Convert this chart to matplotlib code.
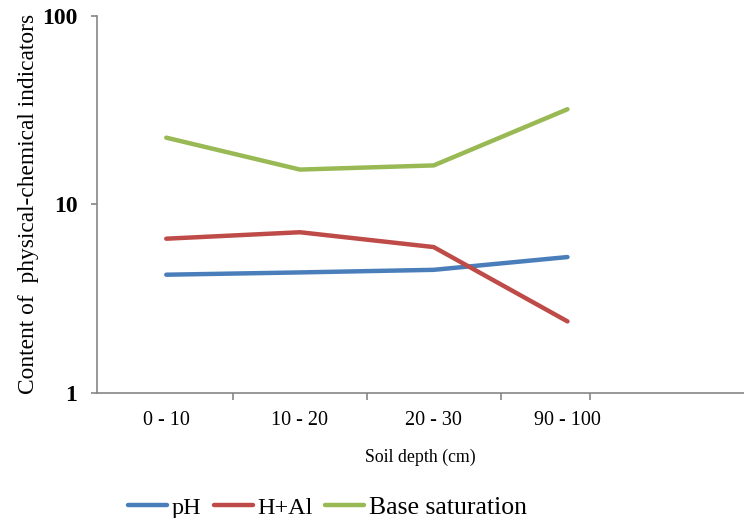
import matplotlib
matplotlib.use("Agg")
from matplotlib import pyplot as plt
from matplotlib.ticker import FixedLocator, NullLocator

depths = ["0 - 10", "10 - 20", "20 - 30", "90 - 100"]
ph = [4.23, 4.35, 4.49, 5.25]
h_al = [6.57, 7.11, 5.93, 2.39]
base_saturation = [22.6, 15.3, 16.1, 32.0]

plt.rcParams["font.family"] = ["Liberation Serif", "DejaVu Serif"]

fig = plt.figure(figsize=(7.44, 5.18), dpi=100)
ax = fig.add_axes([0.130, 0.242, 0.870, 0.727])

x = range(len(depths))
ax.plot(x, ph, color="#4A7EBB", linewidth=3.2, solid_capstyle="round", label="pH")
ax.plot(x, h_al, color="#BE4B48", linewidth=3.2, solid_capstyle="round", label="H+Al")
ax.plot(x, base_saturation, color="#98B954", linewidth=3.2, solid_capstyle="round", label="Base saturation")

ax.set_yscale("log")
ax.set_ylim(1, 100)
ax.yaxis.set_major_locator(FixedLocator([1, 10, 100]))
ax.yaxis.set_minor_locator(NullLocator())
ax.set_yticklabels(["1", "10", "100"], fontsize=17, fontweight="bold")

ax.set_xlim(-0.52, 4.32)
ax.set_xticks(list(x))
ax.set_xticklabels(depths, fontsize=14.5)
ax.set_xticks([0.5, 1.5, 2.5, 3.17], minor=True)
ax.tick_params(axis="x", which="major", length=0, pad=13)
ax.tick_params(axis="x", which="minor", length=5, color="#868686", width=1.2)
ax.tick_params(axis="y", length=4, color="#868686", width=1.2, pad=10)

for side in ["top", "right"]:
    ax.spines[side].set_visible(False)
for side in ["left", "bottom"]:
    ax.spines[side].set_color("#868686")
    ax.spines[side].set_linewidth(1.2)

ax.set_xlabel("Soil depth (cm)", fontsize=12.8, labelpad=14)
ax.set_ylabel("Content of  physical-chemical indicators", fontsize=16.8, labelpad=2)

leg = fig.legend(loc="lower left", bbox_to_anchor=(0.143, -0.044), ncol=3, frameon=False,
                 fontsize=17.5, handlelength=1.6, handletextpad=0.2, columnspacing=0.5)
sizes = [17.5, 17.5, 18.5]
for txt, size in zip(leg.get_texts(), sizes):
    txt.set_fontsize(size)

fig.savefig("out.png", dpi=100)
plt.close(fig)
